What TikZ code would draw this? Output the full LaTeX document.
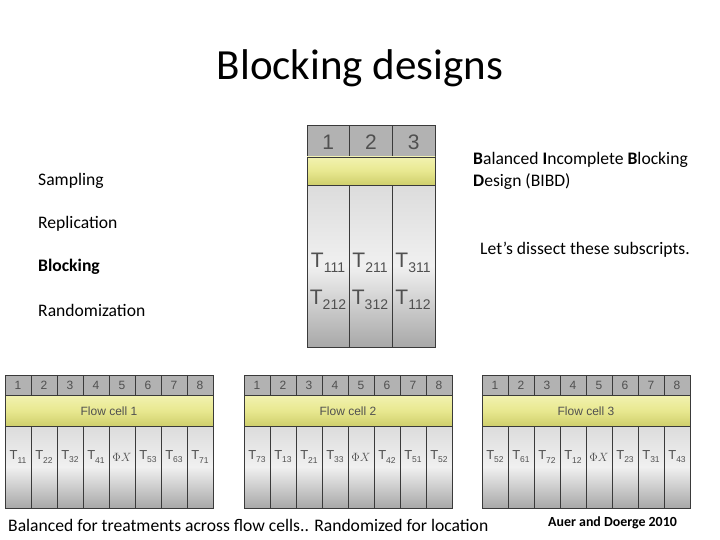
\documentclass[tikz,border=0pt]{standalone}
\usepackage{fontspec}
\setmainfont{Carlito}
\newfontfamily\lanefont{Liberation Sans}
\usetikzlibrary{positioning}

\definecolor{hdrgray}{HTML}{B2B2B2}
\definecolor{edgegray}{HTML}{3A3A3A}
\definecolor{bandtop}{HTML}{F2F2B0}
\definecolor{bandmid}{HTML}{E8E890}
\definecolor{bandbot}{HTML}{CFCF6C}
\definecolor{lanetop}{HTML}{DCDCDC}
\definecolor{lanemid}{HTML}{F0F0F0}
\definecolor{lanebot}{HTML}{A8A8A8}
\definecolor{inkgray}{HTML}{505050}

\newcommand\sub[1]{\raisebox{-0.45ex}{\fontsize{8.5}{8.5}\selectfont #1}}
\newcommand\bigsub[1]{\raisebox{-0.5ex}{\fontsize{14}{14}\selectfont #1}}
\newcommand\phix{$\Phi X$}

\tikzset{
  hdr/.style={draw=edgegray, fill=hdrgray, line width=0.7pt},
  band/.style={draw=edgegray, top color=bandtop, bottom color=bandbot, middle color=bandmid, line width=0.7pt},
  lane/.style={draw=edgegray, top color=lanetop, bottom color=lanebot, middle color=lanemid, line width=0.7pt},
  num/.style={text=inkgray, font=\lanefont\fontsize{12}{12}\selectfont},
  bignum/.style={text=inkgray, font=\lanefont\fontsize{21}{21}\selectfont},
  cellname/.style={text=inkgray, font=\lanefont\fontsize{12}{12}\selectfont},
  lanetxt/.style={text=inkgray, font=\lanefont\fontsize{13}{13}\selectfont, inner sep=0pt},
  bigtxt/.style={text=inkgray, font=\lanefont\fontsize{21}{21}\selectfont, inner sep=0pt},
  label/.style={anchor=west, inner sep=0pt, font=\fontsize{17.6}{22}\selectfont},
}

% one flow cell: left x, name, number, lane labels
\newcommand\flowcell[4]{%
  \foreach \k in {1,...,8}{
    \draw[hdr] ({#1+(\k-1)*26},375) rectangle ++(26,20);
    \node[num] (#2h\k) at ({#1+(\k-0.5)*26},385) {\k};
  }
  \draw[band] (#1,395) rectangle ++(208,31);
  \node[cellname] (#2band) at ({#1+104},411) {Flow cell #3};
  \foreach \t [count=\k] in {#4}{
    \shade[lane] ({#1+(\k-1)*26},426) rectangle ++(26,82);
    \node[lanetxt] (#2l\k) at ({#1+(\k-0.5)*26},457) {\t};
  }
}

\begin{document}
\begin{tikzpicture}[x=1pt, y=-1pt]
  \fill[white] (0,0) rectangle (720,540);
  \useasboundingbox (0,0) rectangle (720,540);

  \node[font=\fontsize{43}{50}\selectfont] (title) at (360,68) {Blocking designs};

  % left column
  \node[label] (sampling) at (38,181) {Sampling};
  \node[label] (replication) at (38,224) {Replication};
  \node[label] (blocking) at (38,267) {\textbf{Blocking}};
  \node[label] (random) at (38,310) {Randomization};

  % the BIBD block
  \foreach \k [evaluate=\k as \xl using {307+(\k-1)*42.67}] in {1,2,3}{
    \draw[hdr] (\xl,125) rectangle ++(42.67,32);
    \node[bignum] (top\k) at ({\xl+21.3},142) {\k};
    \shade[lane] (\xl,185) rectangle ++(42.67,162);
  }
  \draw[band] (307,157) rectangle (435,185);
  \node[bigtxt] (t111) at (328,263) {T\bigsub{111}};
  \node[bigtxt] (t211) at (370,263) {T\bigsub{211}};
  \node[bigtxt] (t311) at (413,263) {T\bigsub{311}};
  \node[bigtxt] (t212) at (328,300) {T\bigsub{212}};
  \node[bigtxt] (t312) at (370,300) {T\bigsub{312}};
  \node[bigtxt] (t112) at (413,300) {T\bigsub{112}};

  % right column
  \node[label, align=left] (bibd) at (473,171)
    {\textbf{B}alanced \textbf{I}ncomplete \textbf{B}locking\\\textbf{D}esign (BIBD)};
  \node[label] (dissect) at (480,250) {Let’s dissect these subscripts.};

  % flow cells
  \flowcell{5}{fa}{1}{T\sub{11},T\sub{22},T\sub{32},T\sub{41},\phix,T\sub{53},T\sub{63},T\sub{71}}
  \flowcell{244}{fb}{2}{T\sub{73},T\sub{13},T\sub{21},T\sub{33},\phix,T\sub{42},T\sub{51},T\sub{52}}
  \flowcell{482}{fc}{3}{T\sub{52},T\sub{61},T\sub{72},T\sub{12},\phix,T\sub{23},T\sub{31},T\sub{43}}

  \node[label] (summary) at (8,525) {Balanced for treatments across flow cells.. Randomized for location};
  \node[label, font=\bfseries\fontsize{13.9}{16}\selectfont] (cite) at (548,523) {Auer and Doerge 2010};
\end{tikzpicture}
\end{document}
